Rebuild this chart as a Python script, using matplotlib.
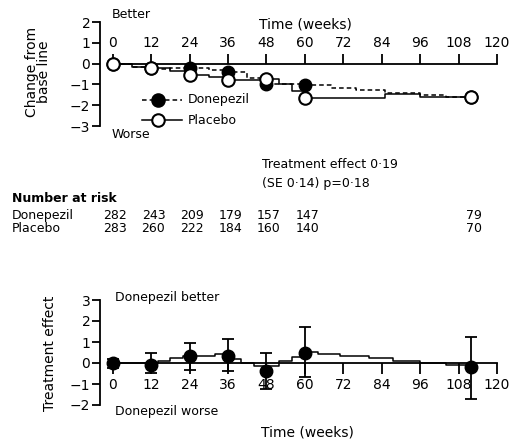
import matplotlib
matplotlib.use('Agg')
import matplotlib.pyplot as plt
from matplotlib.lines import Line2D
from matplotlib.transforms import blended_transform_factory

plt.rcParams['font.family'] = 'DejaVu Sans'
plt.rcParams['font.size'] = 10

# marker points (weeks) and values
weeks = [0, 12, 24, 36, 48, 60, 112]
donepezil = [0, -0.23, -0.2, -0.39, -1.0, -1.03, -1.6]
placebo = [0, -0.23, -0.55, -0.77, -0.75, -1.65, -1.6]

# the stepped connecting curves (start week of each step, level)
d_step_w = [0, 6, 12, 18, 24, 30, 36, 42, 48, 54, 60, 68, 76, 85, 96, 104, 112]
d_step_v = [0, -0.15, -0.25, -0.2, -0.22, -0.3, -0.4, -0.7, -1.0, -1.0, -1.05, -1.15, -1.25, -1.4, -1.5, -1.6, -1.6]
p_step_w = [0, 6, 12, 18, 24, 30, 36, 42, 48, 52, 56, 60, 85, 96, 112]
p_step_v = [0, -0.15, -0.22, -0.35, -0.55, -0.65, -0.78, -0.78, -0.75, -1.0, -1.3, -1.65, -1.45, -1.6, -1.6]

# treatment effect (bottom panel)
te = [0, -0.08, 0.32, 0.35, -0.37, 0.5, -0.19]
te_lo = [-0.25, -0.48, -0.32, -0.4, -1.25, -0.65, -1.7]
te_hi = [0.2, 0.5, 0.95, 1.14, 0.5, 1.7, 1.25]
t_step_w = [0, 14, 18, 22, 32, 37, 40, 44, 52, 56, 60, 64, 71, 80, 87.5, 96, 104, 112]
t_step_v = [0, 0.1, 0.24, 0.35, 0.44, 0.2, 0, -0.12, 0.1, 0.3, 0.52, 0.45, 0.35, 0.24, 0.11, 0, -0.08, -0.08]

# number at risk
risk_weeks = [0, 12, 24, 36, 48, 60, 112]
risk_donepezil = [282, 243, 209, 179, 157, 147, 79]
risk_placebo = [283, 260, 222, 184, 160, 140, 70]

W, H = 512, 445
fig = plt.figure(figsize=(W / 100, H / 100), dpi=100)


def fx(px):
    return px / W


def fy(py):
    return 1 - py / H


xticks = list(range(0, 121, 12))

# ---------------- top panel ----------------
ax1 = fig.add_axes([fx(100), fy(126), 397 / W, 104 / H])
ax1.set_xlim(-4, 120)
ax1.set_ylim(-3, 2)
ax1.spines['right'].set_visible(False)
ax1.spines['bottom'].set_visible(False)
ax1.spines['top'].set_position(('data', 0))
ax1.spines['top'].set_bounds(0, 120)
ax1.spines['left'].set_bounds(-3, 2)
for s in ax1.spines.values():
    s.set_linewidth(1.3)
ax1.xaxis.set_ticks_position('top')
ax1.set_xticks(xticks)
ax1.tick_params(axis='x', direction='out', length=7, width=1.3, pad=3)
ax1.set_yticks(range(-3, 3))
ax1.tick_params(axis='y', length=6, width=1.3, pad=1)
ax1.patch.set_visible(False)

ax1.plot(d_step_w, d_step_v, drawstyle='steps-post', color='black', lw=1.1, ls=(0, (3, 2)), zorder=2)
ax1.plot(p_step_w, p_step_v, drawstyle='steps-post', color='black', lw=1.1, zorder=2)
ax1.plot(weeks, donepezil, ls='none', marker='o', ms=9, color='black', zorder=3)
ax1.plot(weeks, placebo, ls='none', marker='o', ms=9, mfc='white', mec='black', mew=1.5, zorder=4)

fig.text(fx(112), fy(14), 'Better', va='center', ha='left', fontsize=9)
fig.text(fx(112), fy(134), 'Worse', va='center', ha='left', fontsize=9)
fig.text(fx(305), fy(25), 'Time (weeks)', va='center', ha='center')
fig.text(fx(38), fy(72), 'Change from\nbase line', rotation=90, va='center', ha='center',
         linespacing=0.85)

# legend drawn by hand
for yy, ls, mfc, name in [(100, (0, (3, 2)), 'black', 'Donepezil'), (120, '-', 'white', 'Placebo')]:
    fig.add_artist(Line2D([fx(142), fx(182)], [fy(yy), fy(yy)], transform=fig.transFigure,
                          color='black', lw=1.1, ls=ls))
    fig.add_artist(Line2D([fx(158)], [fy(yy)], transform=fig.transFigure, ls='none',
                          marker='o', ms=9, mfc=mfc, mec='black', mew=1.5))
    fig.text(fx(188), fy(yy), name, va='center', ha='left', fontsize=9)

# ---------------- middle text ----------------
fig.text(fx(262), fy(165), 'Treatment effect 0·19', va='center', ha='left', fontsize=9)
fig.text(fx(262), fy(183), '(SE 0·14) p=0·18', va='center', ha='left', fontsize=9)
fig.text(fx(12), fy(199), 'Number at risk', va='center', ha='left', fontsize=9, fontweight='bold')
fig.text(fx(12), fy(216), 'Donepezil', va='center', ha='left', fontsize=9)
fig.text(fx(12), fy(229), 'Placebo', va='center', ha='left', fontsize=9)
tr = blended_transform_factory(ax1.transData, fig.transFigure)
for w, d, p in zip(risk_weeks, risk_donepezil, risk_placebo):
    fig.text(w + 0.7, fy(216), str(d), transform=tr, va='center', ha='center', fontsize=9)
    fig.text(w + 0.7, fy(229), str(p), transform=tr, va='center', ha='center', fontsize=9)

# ---------------- bottom panel ----------------
ax2 = fig.add_axes([fx(100), fy(405), 397 / W, 105 / H])
ax2.set_xlim(-4, 120)
ax2.set_ylim(-2, 3)
ax2.spines['right'].set_visible(False)
ax2.spines['top'].set_visible(False)
ax2.spines['bottom'].set_position(('data', 0))
ax2.spines['bottom'].set_bounds(0, 120)
ax2.spines['left'].set_bounds(-2, 3)
for s in ax2.spines.values():
    s.set_linewidth(1.3)
ax2.set_xticks(xticks)
ax2.tick_params(axis='x', direction='out', length=8, width=1.3, pad=3)
ax2.set_yticks(range(-2, 4))
ax2.tick_params(axis='y', length=6, width=1.3, pad=1)
ax2.patch.set_visible(False)

ax2.plot(t_step_w, t_step_v, drawstyle='steps-post', color='black', lw=1.1, zorder=2)
err = [[v - lo for v, lo in zip(te, te_lo)], [hi - v for v, hi in zip(te, te_hi)]]
ax2.errorbar(weeks, te, yerr=err, fmt='o', ms=9, color='black', ecolor='black',
             elinewidth=1.3, capsize=4.5, capthick=1.3, zorder=3)

fig.text(fx(115), fy(297), 'Donepezil better', va='center', ha='left', fontsize=9)
fig.text(fx(115), fy(412), 'Donepezil worse', va='center', ha='left', fontsize=9)
fig.text(fx(307), fy(433), 'Time (weeks)', va='center', ha='center')
fig.text(fx(50), fy(353), 'Treatment effect', rotation=90, va='center', ha='center')

fig.savefig('out.png', dpi=100)
